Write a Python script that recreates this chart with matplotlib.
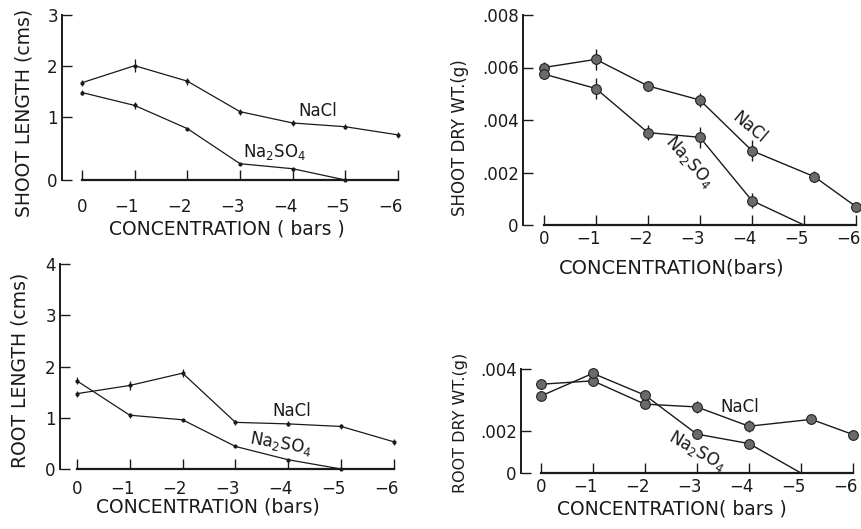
import numpy as np
import matplotlib
matplotlib.use("Agg")
import matplotlib.pyplot as plt
from matplotlib.transforms import ScaledTranslation

W, H = 861, 529

# ---------------- data ----------------
xticks = [0, -1, -2, -3, -4, -5, -6]
xtick_labels = ["0", "\u22121", "\u22122", "\u22123", "\u22124", "\u22125", "\u22126"]

# Shoot length (cms)
sl_nacl_x = [0, -1, -2, -3, -4, -5, -6]
sl_nacl = [1.67, 2.00, 1.70, 1.11, 0.91, 0.85, 0.72]
sl_nacl_err = [0.06, 0.13, 0.07, 0.06, 0.05, 0.04, 0.05]
sl_na2_x = [0, -1, -2, -3, -4, -5]
sl_na2 = [1.48, 1.23, 0.82, 0.26, 0.18, 0.0]
sl_na2_err = [0.05, 0.07, 0.0, 0.0, 0.0, 0.0]
sl_yticks = [0, 1, 2, 3]
sl_yticklabels = ["0", "1", "2", "3"]

# Shoot dry weight (g)
sdw_nacl_x = [0, -1, -2, -3, -4, -5.2, -6]
sdw_nacl = [0.0060, 0.00631, 0.00530, 0.00476, 0.00283, 0.00184, 0.0007]
sdw_nacl_err = [0.0002, 0.0004, 0.0002, 0.00025, 0.0004, 0.0002, 0.00015]
sdw_na2_x = [0, -1, -2, -3, -4, -5]
sdw_na2 = [0.00575, 0.00520, 0.00352, 0.00334, 0.00093, 0.0]
sdw_na2_err = [0.0002, 0.0004, 0.0003, 0.0004, 0.0003, 0.0]
sdw_yticks = [0, 0.002, 0.004, 0.006, 0.008]
sdw_yticklabels = ["0", ".002", ".004", ".006", ".008"]

# Root length (cms)
rl_nacl_x = [0, -1, -2, -3, -4, -5, -6]
rl_nacl = [1.47, 1.63, 1.87, 0.91, 0.88, 0.83, 0.53]
rl_nacl_err = [0.06, 0.08, 0.08, 0.05, 0.05, 0.04, 0.06]
rl_na2_x = [0, -1, -2, -3, -4, -5]
rl_na2 = [1.72, 1.05, 0.96, 0.44, 0.18, 0.0]
rl_na2_err = [0.07, 0.05, 0.0, 0.0, 0.0, 0.0]
rl_yticks = [0, 1, 2, 3, 4]
rl_yticklabels = ["0", "1", "2", "3", "4"]

# Root dry weight (g)
rdw_nacl_x = [0, -1, -2, -3, -4, -5.2, -6]
rdw_nacl = [0.00351, 0.00362, 0.00287, 0.00278, 0.00216, 0.00238, 0.00184]
rdw_nacl_err = [0.00015, 0.0001, 0.0001, 0.0002, 0.0002, 0.00015, 0.0002]
rdw_na2_x = [0, -1, -2, -3, -4, -5]
rdw_na2 = [0.00313, 0.00386, 0.00316, 0.00186, 0.00141, 0.0]
rdw_na2_err = [0.0001, 0.0001, 0.0001, 0.0002, 0.0002, 0.0]
rdw_yticks = [0, 0.002, 0.004]
rdw_yticklabels = ["0", ".002", ".004"]

# ---------------- style ----------------
plt.rcParams["font.family"] = ["DejaVu Sans"]
FS = 12
LC = "#1a1a1a"

fig = plt.figure(figsize=(W / 100, H / 100), dpi=100)


def px_axes(left, right, bottom, top):
    return fig.add_axes([left / W, 1 - bottom / H, (right - left) / W, (bottom - top) / H])


def piecewise(vals, pix):
    vals = np.asarray(vals, float)
    pix = np.asarray(pix, float)
    v = np.concatenate([[vals[0] - 10 * (vals[1] - vals[0])], vals, [vals[-1] + 10 * (vals[-1] - vals[-2])]])
    p = np.concatenate([[pix[0] - 10 * (pix[1] - pix[0])], pix, [pix[-1] + 10 * (pix[-1] - pix[-2])]])
    fwd = lambda y: np.interp(y, v, p)
    inv = lambda q: np.interp(q, p, v)
    return fwd, inv


def setup(ax, x0, ylim, yticks, yticklabels, xpad, scale=None):
    if scale is not None:
        ax.set_yscale("function", functions=scale)
    ax.set_xlim(x0, -6)
    ax.set_ylim(*ylim)
    for s in ("top", "right"):
        ax.spines[s].set_visible(False)
    ax.spines["bottom"].set_bounds(0, -6)
    ax.spines["bottom"].set_linewidth(1.6)
    ax.spines["left"].set_linewidth(1.4)
    ax.spines["bottom"].set_color(LC)
    ax.spines["left"].set_color(LC)
    ax.set_xticks(xticks)
    ax.set_xticklabels(xtick_labels)
    ax.set_yticks(yticks)
    ax.set_yticklabels(yticklabels)
    ax.yaxis.set_minor_locator(matplotlib.ticker.NullLocator())
    ax.tick_params(axis="x", direction="in", length=7, width=1.0, pad=xpad, labelsize=FS, colors=LC)
    ax.tick_params(axis="y", direction="in", length=7, width=1.0, pad=3, labelsize=FS, colors=LC)
    # digits sit on the tick, the minus sign hangs to the left
    for lab in ax.get_xticklabels()[1:]:
        lab.set_horizontalalignment("right")
        lab.set_transform(lab.get_transform() + ScaledTranslation(4.5 / 100, 0, fig.dpi_scale_trans))
    ax.patch.set_alpha(0)


def plot_cross(ax, x, y, err):
    ax.errorbar(x, y, yerr=err, color=LC, lw=0.9, marker="o", ms=2, elinewidth=0.9,
                capsize=0, clip_on=False, zorder=3)


def plot_dot(ax, x, y, err, n_marked):
    ax.plot(x, y, color=LC, lw=1.0, clip_on=False, zorder=2)
    ax.errorbar(x[:n_marked], y[:n_marked], yerr=err[:n_marked], fmt="o", color=LC,
                mfc="#6a6a6a", mec="#222222", ms=7, mew=0.8, elinewidth=1.0, capsize=0,
                clip_on=False, zorder=3)


# ---- Panel 1: shoot length ----
ax1 = px_axes(62, 398, 180, 15)
setup(ax1, 0.38, (0, 3), sl_yticks, sl_yticklabels, 13,
      scale=piecewise([0, 1, 2, 3], [0, 188, 343, 495]))
plot_cross(ax1, sl_nacl_x, sl_nacl, sl_nacl_err)
plot_cross(ax1, sl_na2_x, sl_na2, sl_na2_err)
ax1.text(-4.1, 1.12, "NaCl", fontsize=FS, color=LC, ha="left", va="center")
ax1.text(-3.05, 0.45, r"Na$_2$SO$_4$", fontsize=FS, color=LC, ha="left", va="center")

# ---- Panel 2: shoot dry weight ----
ax2 = px_axes(523, 856, 225, 15)
setup(ax2, 0.40, (0, 0.008), sdw_yticks, sdw_yticklabels, 3.5)
plot_dot(ax2, sdw_nacl_x, sdw_nacl, sdw_nacl_err, 7)
plot_dot(ax2, sdw_na2_x, sdw_na2, sdw_na2_err, 5)
ax2.text(-3.95, 0.0037, "NaCl", fontsize=FS, color=LC, ha="center", va="center", rotation=-40)
ax2.text(-2.8, 0.0024, r"Na$_2$SO$_4$", fontsize=FS, color=LC, ha="center", va="center", rotation=-48)

# ---- Panel 3: root length ----
ax3 = px_axes(60, 394, 469, 264)
setup(ax3, 0.32, (0, 4), rl_yticks, rl_yticklabels, 8)
plot_cross(ax3, rl_nacl_x, rl_nacl, rl_nacl_err)
plot_cross(ax3, rl_na2_x, rl_na2, rl_na2_err)
ax3.text(-3.7, 1.14, "NaCl", fontsize=FS, color=LC, ha="left", va="center")
ax3.text(-3.85, 0.5, r"Na$_2$SO$_4$", fontsize=FS, color=LC, ha="center", va="center", rotation=-10)

# ---- Panel 4: root dry weight ----
ax4 = px_axes(521, 853, 473, 369)
setup(ax4, 0.38, (0, 0.004), rdw_yticks, rdw_yticklabels, 3.5,
      scale=piecewise([0, 0.002, 0.004], [0, 125, 311]))
plot_dot(ax4, rdw_nacl_x, rdw_nacl, rdw_nacl_err, 7)
plot_dot(ax4, rdw_na2_x, rdw_na2, rdw_na2_err, 5)
ax4.text(-3.83, 0.00278, "NaCl", fontsize=FS, color=LC, ha="center", va="center")
ax4.text(-3.0, 0.00105, r"Na$_2$SO$_4$", fontsize=FS, color=LC, ha="center", va="center", rotation=-30)


# ---- axis titles ----
def ftext(x, y, s, size, rot=0):
    fig.text(x / W, 1 - y / H, s, fontsize=size, color=LC, ha="center", va="center", rotation=rot)


ftext(227, 229, "CONCENTRATION ( bars )", 13.5)
ftext(672, 268, "CONCENTRATION(bars)", 14)
ftext(208, 507, "CONCENTRATION (bars)", 13.5)
ftext(672, 509, "CONCENTRATION( bars )", 13.5)
ftext(24, 113, "SHOOT LENGTH (cms)", 13.5, 90)
ftext(460, 138, "SHOOT DRY WT.(g)", 12, 90)
ftext(20, 370, "ROOT LENGTH (cms)", 13.5, 90)
ftext(460, 423, "ROOT DRY WT.(g)", 11.5, 90)

fig.savefig("out.png", dpi=100)
